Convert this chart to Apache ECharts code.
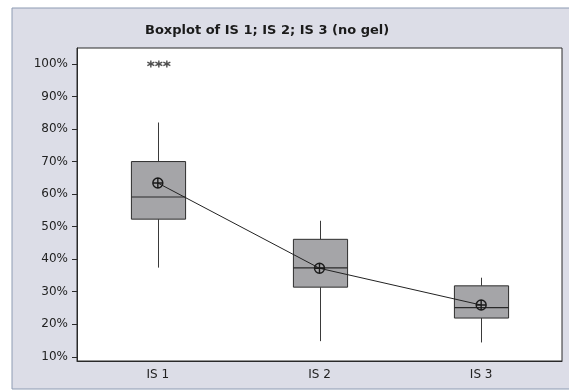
<!DOCTYPE html>
<html>
<head>
<meta charset="utf-8">
<script src="https://cdn.jsdelivr.net/npm/echarts@6/dist/echarts.min.js"></script>
<style>
  html, body { margin: 0; padding: 0; background: #ffffff; }
  #chart { width: 569px; height: 392px; }
</style>
</head>
<body>
<div id="chart"></div>
<script>
// Sample groups and their five-number summaries (percent)
const categories = ['IS 1', 'IS 2', 'IS 3'];
const whiskerLow = [37.4, 14.8, 14.4];
const quartile1 = [52.3, 31.4, 21.9];
const medians = [59.1, 37.3, 25.1];
const quartile3 = [70.0, 46.1, 31.8];
const whiskerHigh = [82.0, 51.8, 34.3];
const means = [63.4, 37.2, 25.9];
// Outliers: [category, value]
const outliers = [['IS 1', 100], ['IS 1', 100], ['IS 1', 100]];
const yTicks = [10, 20, 30, 40, 50, 60, 70, 80, 90, 100];

const boxData = categories.map((c, i) => [i, whiskerLow[i], quartile1[i], medians[i], quartile3[i], whiskerHigh[i]]);

const starPath = 'path://M0,-5L0,5M-4.5,-2.5L4.5,2.5M-4.5,2.5L4.5,-2.5';
const meanPath = 'path://M0,-5A5,5 0 1,1 0,5A5,5 0 1,1 0,-5ZM-5,0L5,0M0,-5L0,5';
const outlierOffsets = [[-7, 0], [1, 0], [9, 0]];
const BOX_FRACTION = 0.335;

// Box with plain whiskers (no end caps)
function renderBox(params, api) {
  const idx = api.value(0);
  const pLow = api.coord([idx, api.value(1)]);
  const pQ1 = api.coord([idx, api.value(2)]);
  const pMed = api.coord([idx, api.value(3)]);
  const pQ3 = api.coord([idx, api.value(4)]);
  const pHigh = api.coord([idx, api.value(5)]);
  const half = api.size([1, 0])[0] * BOX_FRACTION / 2;
  const x = Math.round(pQ1[0]) + 0.5;
  const lineStyle = { stroke: '#3a3a3a', lineWidth: 1 };
  return {
    type: 'group',
    children: [
      { type: 'line', shape: { x1: x, y1: pQ3[1], x2: x, y2: pHigh[1] }, style: lineStyle },
      { type: 'line', shape: { x1: x, y1: pQ1[1], x2: x, y2: pLow[1] }, style: lineStyle },
      {
        type: 'rect',
        shape: { x: x - half, y: pQ3[1], width: half * 2, height: pQ1[1] - pQ3[1] },
        style: { fill: '#a5a5a8', stroke: '#2e2e2e', lineWidth: 1 }
      },
      { type: 'line', shape: { x1: x - half, y1: pMed[1], x2: x + half, y2: pMed[1] }, style: { stroke: '#2a2a2a', lineWidth: 1.2 } }
    ]
  };
}

const chart = echarts.init(document.getElementById('chart'), null, { renderer: 'canvas' });
chart.setOption({
  backgroundColor: '#ffffff',
  animation: false,
  graphic: [{
    type: 'rect',
    z: -10,
    shape: { x: 12, y: 8, width: 570, height: 381 },
    style: { fill: '#dcdde7', stroke: '#8d9bb3', lineWidth: 1 }
  }],
  title: {
    text: 'Boxplot of IS 1; IS 2; IS 3 (no gel)',
    left: 140,
    top: 19,
    textStyle: { fontFamily: 'DejaVu Sans', fontWeight: 'bold', fontSize: 13, color: '#1a1a1a' }
  },
  grid: {
    left: 77, right: 7, top: 48, bottom: 31,
    show: true, backgroundColor: '#ffffff', borderColor: '#2a2a2a', borderWidth: 1
  },
  xAxis: {
    type: 'category',
    data: categories,
    boundaryGap: true,
    axisLine: { lineStyle: { color: '#2a2a2a', width: 1 } },
    axisTick: { alignWithLabel: true, length: 4, lineStyle: { color: '#2a2a2a' } },
    axisLabel: { margin: 8, fontFamily: 'DejaVu Sans', fontSize: 12, color: '#222' },
    splitLine: { show: false }
  },
  yAxis: {
    type: 'value',
    min: 8.7,
    max: 104.9,
    axisLine: { show: true, lineStyle: { color: '#2a2a2a', width: 1 } },
    axisTick: { show: true, length: 5, customValues: yTicks, lineStyle: { color: '#2a2a2a' } },
    axisLabel: {
      customValues: yTicks, margin: 9,
      fontFamily: 'DejaVu Sans', fontSize: 12, color: '#222',
      formatter: v => v + '%'
    },
    splitLine: { show: false }
  },
  series: [
    {
      type: 'custom',
      data: boxData,
      renderItem: renderBox,
      encode: { x: 0, y: [1, 2, 3, 4, 5] },
      silent: true
    },
    ...outliers.map((o, i) => ({
      type: 'scatter',
      data: [o],
      symbol: starPath,
      symbolSize: [7, 7],
      symbolOffset: outlierOffsets[i],
      itemStyle: { color: 'none', borderColor: '#222', borderWidth: 1.4 },
      silent: true
    })),
    {
      type: 'line',
      data: means,
      symbol: meanPath,
      symbolSize: 10,
      showAllSymbol: true,
      lineStyle: { color: '#222', width: 1 },
      itemStyle: { color: 'none', borderColor: '#1a1a1a', borderWidth: 1.4 },
      z: 5,
      silent: true
    }
  ]
});
</script>
</body>
</html>
